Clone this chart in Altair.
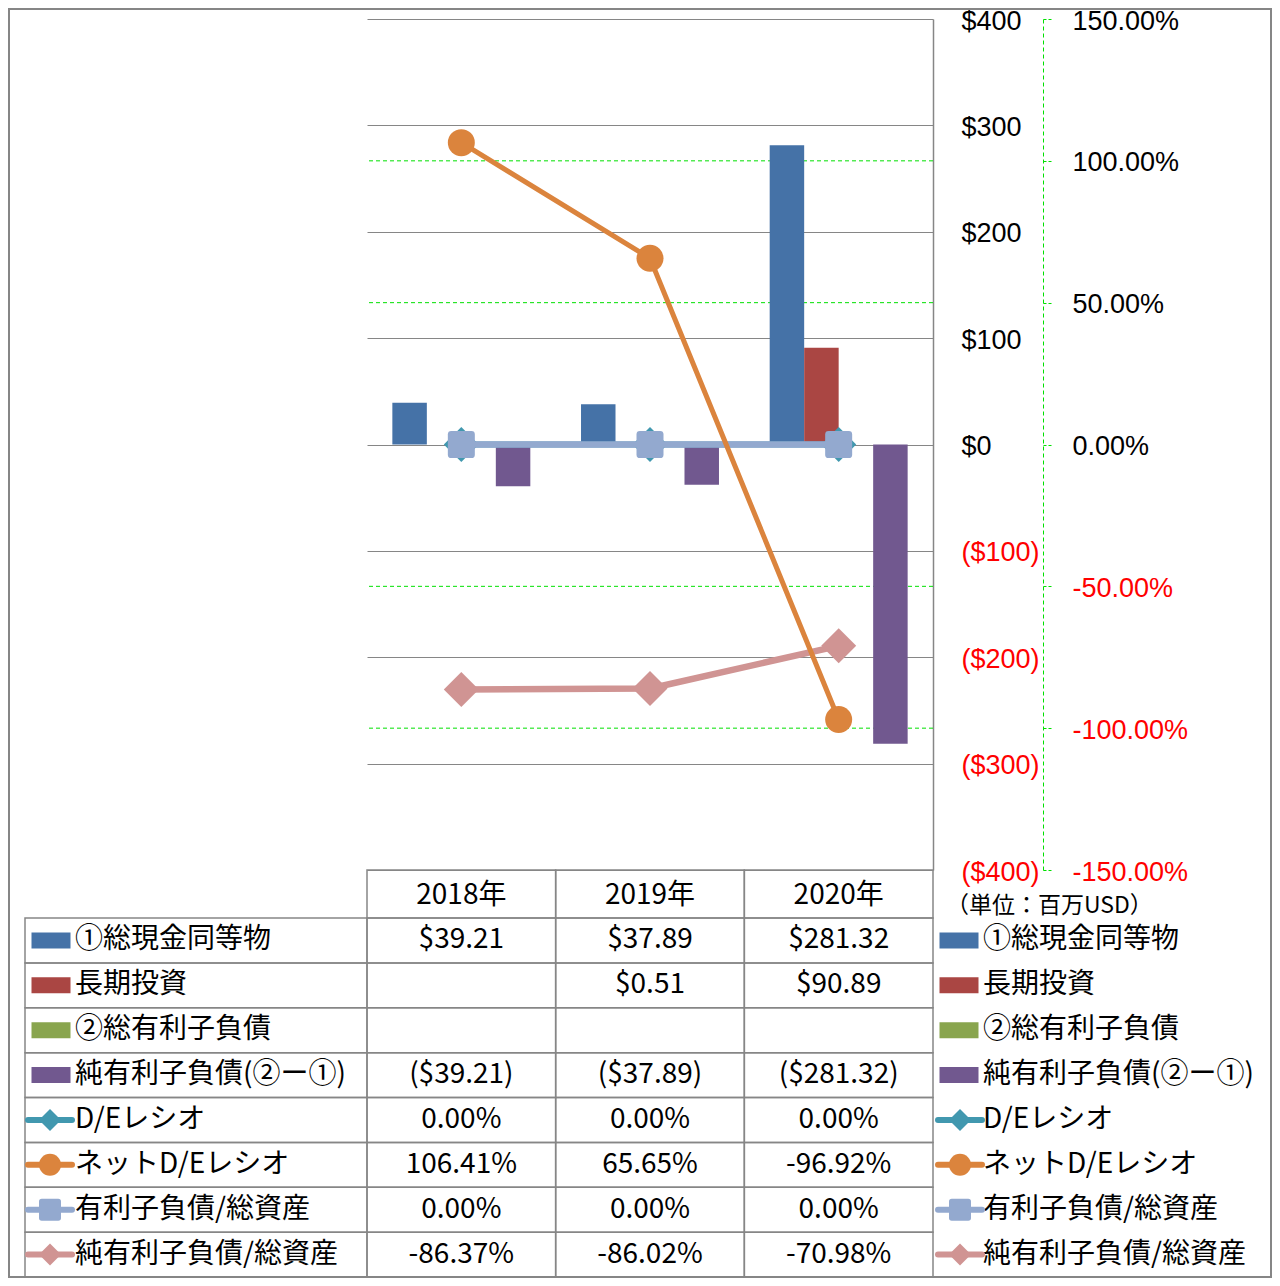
import altair as alt
import pandas as pd

FONT = "Noto Sans CJK JP"
AXIS_FONT = "Liberation Sans"

# ---------------- data ----------------
years = ["2018年", "2019年", "2020年"]

bar_series = ["①総現金同等物", "長期投資", "②総有利子負債", "純有利子負債(②ー①)"]
cash = [39.21, 37.89, 281.32]
long_term_investments = [None, 0.51, 90.89]
total_interest_debt = [None, None, None]
net_interest_debt = [-39.21, -37.89, -281.32]
bar_values = [cash, long_term_investments, total_interest_debt, net_interest_debt]

line_series = ["D/Eレシオ", "ネットD/Eレシオ", "有利子負債/総資産", "純有利子負債/総資産"]
de_ratio = [0.00, 0.00, 0.00]
net_de_ratio = [106.41, 65.65, -96.92]
debt_to_assets = [0.00, 0.00, 0.00]
net_debt_to_assets = [-86.37, -86.02, -70.98]
line_values = [de_ratio, net_de_ratio, debt_to_assets, net_debt_to_assets]

money_ticks = [-400, -300, -200, -100, 0, 100, 200, 300, 400]
pct_ticks = [-1.5, -1.0, -0.5, 0.0, 0.5, 1.0, 1.5]
pct_grid_values = [-1.0, -0.5, 0.5, 1.0]
unit_note = "（単位：百万USD）"

# ---------------- styles ----------------
bar_colors = ["#4572A7", "#AA4643", "#89A54E", "#71588F"]
line_colors = ["#4198AF", "#DB843D", "#93A9CF", "#D09493"]
SQUARE = "M-0.75,-1L0.75,-1Q1,-1,1,-0.75L1,0.75Q1,1,0.75,1L-0.75,1Q-1,1,-1,0.75L-1,-0.75Q-1,-1,-0.75,-1Z"
SWATCH = "M-1,-0.41L1,-0.41L1,0.41L-1,0.41Z"
line_shapes = ["diamond", "circle", SQUARE, "diamond"]
marker_sizes = [1225, 729, 729, 1225]
line_widths = [6, 5, 6.5, 6.5]
draw_order = [0, 2, 3, 1]
GRID = "#868686"
GREEN = "#00E000"

W, H = 566, 851


def money(v):
    if v is None:
        return ""
    return f"(${-v:,.2f})" if v < 0 else f"${v:,.2f}"


def pct(v):
    return f"{v:.2f}%"


rows = bar_series + line_series

bars_df = pd.DataFrame([
    {"series": s, "year": y, "value": v, "color": c}
    for s, vals, c in zip(bar_series, bar_values, bar_colors)
    for y, v in zip(years, vals) if v is not None
])

table_df = pd.DataFrame(
    [{"row": s, "year": y, "text": money(v)} for s, vals in zip(bar_series, bar_values) for y, v in zip(years, vals)]
    + [{"row": s, "year": y, "text": pct(v)} for s, vals in zip(line_series, line_values) for y, v in zip(years, vals)]
)
rows_df = pd.DataFrame({"row": rows})
years_df = pd.DataFrame({"year": years})
bar_leg_df = pd.DataFrame({"row": bar_series, "color": bar_colors})
line_leg_df = pd.DataFrame({"row": line_series, "color": line_colors, "shape": line_shapes})
one_df = pd.DataFrame({"note": [unit_note]})
pct_grid_df = pd.DataFrame({"pct": pct_grid_values})

# ---------------- scales ----------------
xs = alt.Scale(domain=years, paddingInner=0, paddingOuter=0)
X = alt.X("year:N", scale=xs, axis=None)
row_scale = alt.Scale(domain=rows, range=[899, 1258], paddingInner=0, paddingOuter=0)
Y_row_band = alt.Y("row:N", scale=row_scale, axis=None)
Y_row_mid = alt.Y("row:N", scale=row_scale, axis=None, bandPosition=0.5)
money_scale = alt.Scale(domain=[-400, 400], nice=False)
pct_scale = alt.Scale(domain=[-1.5, 1.5], nice=False)

neg_red = {"condition": {"test": "datum.value < 0", "value": "#FF0000"}, "value": "#000000"}

money_axis = alt.Axis(
    orient="right", values=money_ticks, title=None,
    grid=True, gridColor=GRID, gridWidth=1,
    domain=True, domainColor=GRID, domainWidth=1.5,
    ticks=False, tickSize=0, labelPadding=28, labelAlign="left", labelOffset=2,
    labelFont=AXIS_FONT, labelFontSize=27, labelColor=neg_red,
    labelExpr="datum.value < 0 ? '($' + abs(datum.value) + ')' : '$' + datum.value",
    labelOverlap=False, labelFlush=False,
)
pct_axis = alt.Axis(
    orient="right", offset=110, values=pct_ticks, title=None, grid=False,
    domain=True, domainColor=GREEN, domainDash=[4, 3], domainWidth=1,
    ticks=True, tickSize=9, tickColor=GREEN, tickDash=[3, 2], tickWidth=1,
    labelPadding=20, labelAlign="left", labelOffset=2, labelFont=AXIS_FONT, labelFontSize=27,
    labelColor=neg_red,
    labelExpr="(datum.value < 0 ? '-' : '') + format(abs(datum.value), '.2%')",
    labelOverlap=False, labelFlush=False,
)

layers = []

# outer frame
layers.append(alt.Chart(one_df).mark_rect(fillOpacity=0, stroke=GRID, strokeWidth=2).encode(
    x=alt.value(-358), x2=alt.value(904), y=alt.value(-10), y2=alt.value(1258)))

# secondary (percent) gridlines, green dashed
layers.append(alt.Chart(pct_grid_df).mark_rule(color=GREEN, strokeDash=[4, 3], strokeWidth=1).encode(
    y=alt.Y("pct:Q", scale=pct_scale, axis=pct_axis)))

# bars
layers.append(alt.Chart(bars_df).mark_bar().encode(
    x=X,
    xOffset=alt.XOffset("series:N", scale=alt.Scale(domain=bar_series, paddingInner=0, paddingOuter=0.735)),
    y=alt.Y("value:Q", scale=money_scale, axis=money_axis),
    color=alt.Color("color:N", scale=None),
))

# lines with markers
for i in draw_order:
    df = pd.DataFrame({"year": years, "pct": [v / 100 for v in line_values[i]]})
    layers.append(alt.Chart(df).mark_line(color=line_colors[i], strokeWidth=line_widths[i],
                                          strokeCap="round", strokeJoin="round").encode(
        x=X, y=alt.Y("pct:Q", scale=pct_scale, axis=None)))
    layers.append(alt.Chart(df).mark_point(shape=line_shapes[i], size=marker_sizes[i], filled=True,
                                           opacity=1, color=line_colors[i], strokeWidth=0).encode(
        x=X, y=alt.Y("pct:Q", scale=pct_scale, axis=None)))

# ---------------- data table ----------------
cell_style = dict(fillOpacity=0, stroke=GRID, strokeWidth=1.5)
layers.append(alt.Chart(rows_df).mark_rect(**cell_style).encode(
    x=alt.value(-342), x2=alt.value(0), y=Y_row_band))
layers.append(alt.Chart(table_df).mark_rect(**cell_style).encode(x=X, y=Y_row_band))
layers.append(alt.Chart(years_df).mark_rect(**cell_style).encode(
    x=X, y=alt.value(851), y2=alt.value(899)))
layers.append(alt.Chart(years_df).mark_text(font=FONT, fontSize=28, color="black", baseline="middle").encode(
    x=X, y=alt.value(877), text="year:N"))
layers.append(alt.Chart(table_df).mark_text(font=FONT, fontSize=28, color="black", baseline="middle").encode(
    x=X, y=Y_row_mid, text="text:N"))

# row labels (left, in table) and legend labels (right)
for lx in (-292, 616):
    layers.append(alt.Chart(rows_df).mark_text(font=FONT, fontSize=28, color="black", align="left",
                                               baseline="middle").encode(
        x=alt.value(lx), y=Y_row_mid, text="row:N"))

# legend keys: bar swatches
for cx in (-316, 592):
    layers.append(alt.Chart(bar_leg_df).mark_point(shape=SWATCH, size=1521, filled=True, opacity=1,
                                                   strokeWidth=0).encode(
        x=alt.value(cx), y=Y_row_mid, color=alt.Color("color:N", scale=None)))

# legend keys: line + marker
for x1, x2, cx in ((-339, -295, -317), (571, 615, 593)):
    layers.append(alt.Chart(line_leg_df).mark_rule(strokeWidth=6, strokeCap="round").encode(
        x=alt.value(x1), x2=alt.value(x2), y=Y_row_mid, color=alt.Color("color:N", scale=None)))
    layers.append(alt.Chart(line_leg_df).mark_point(size=484, filled=True, opacity=1, strokeWidth=0).encode(
        x=alt.value(cx), y=Y_row_mid, color=alt.Color("color:N", scale=None),
        shape=alt.Shape("shape:N", scale=None)))

# unit note
layers.append(alt.Chart(one_df).mark_text(font=FONT, fontSize=23, color="black", align="left",
                                          baseline="middle").encode(
    x=alt.value(579), y=alt.value(887), text="note:N"))

chart = alt.layer(*layers).resolve_scale(y="independent").properties(
    width=W, height=H,
    padding={"left": 359, "top": 11, "right": 339, "bottom": 408},
    autosize=alt.AutoSizeParams(type="none"),
    background="white",
).configure_view(strokeWidth=0)

chart.save("out.html", embed_options={"renderer": "svg", "actions": False})
